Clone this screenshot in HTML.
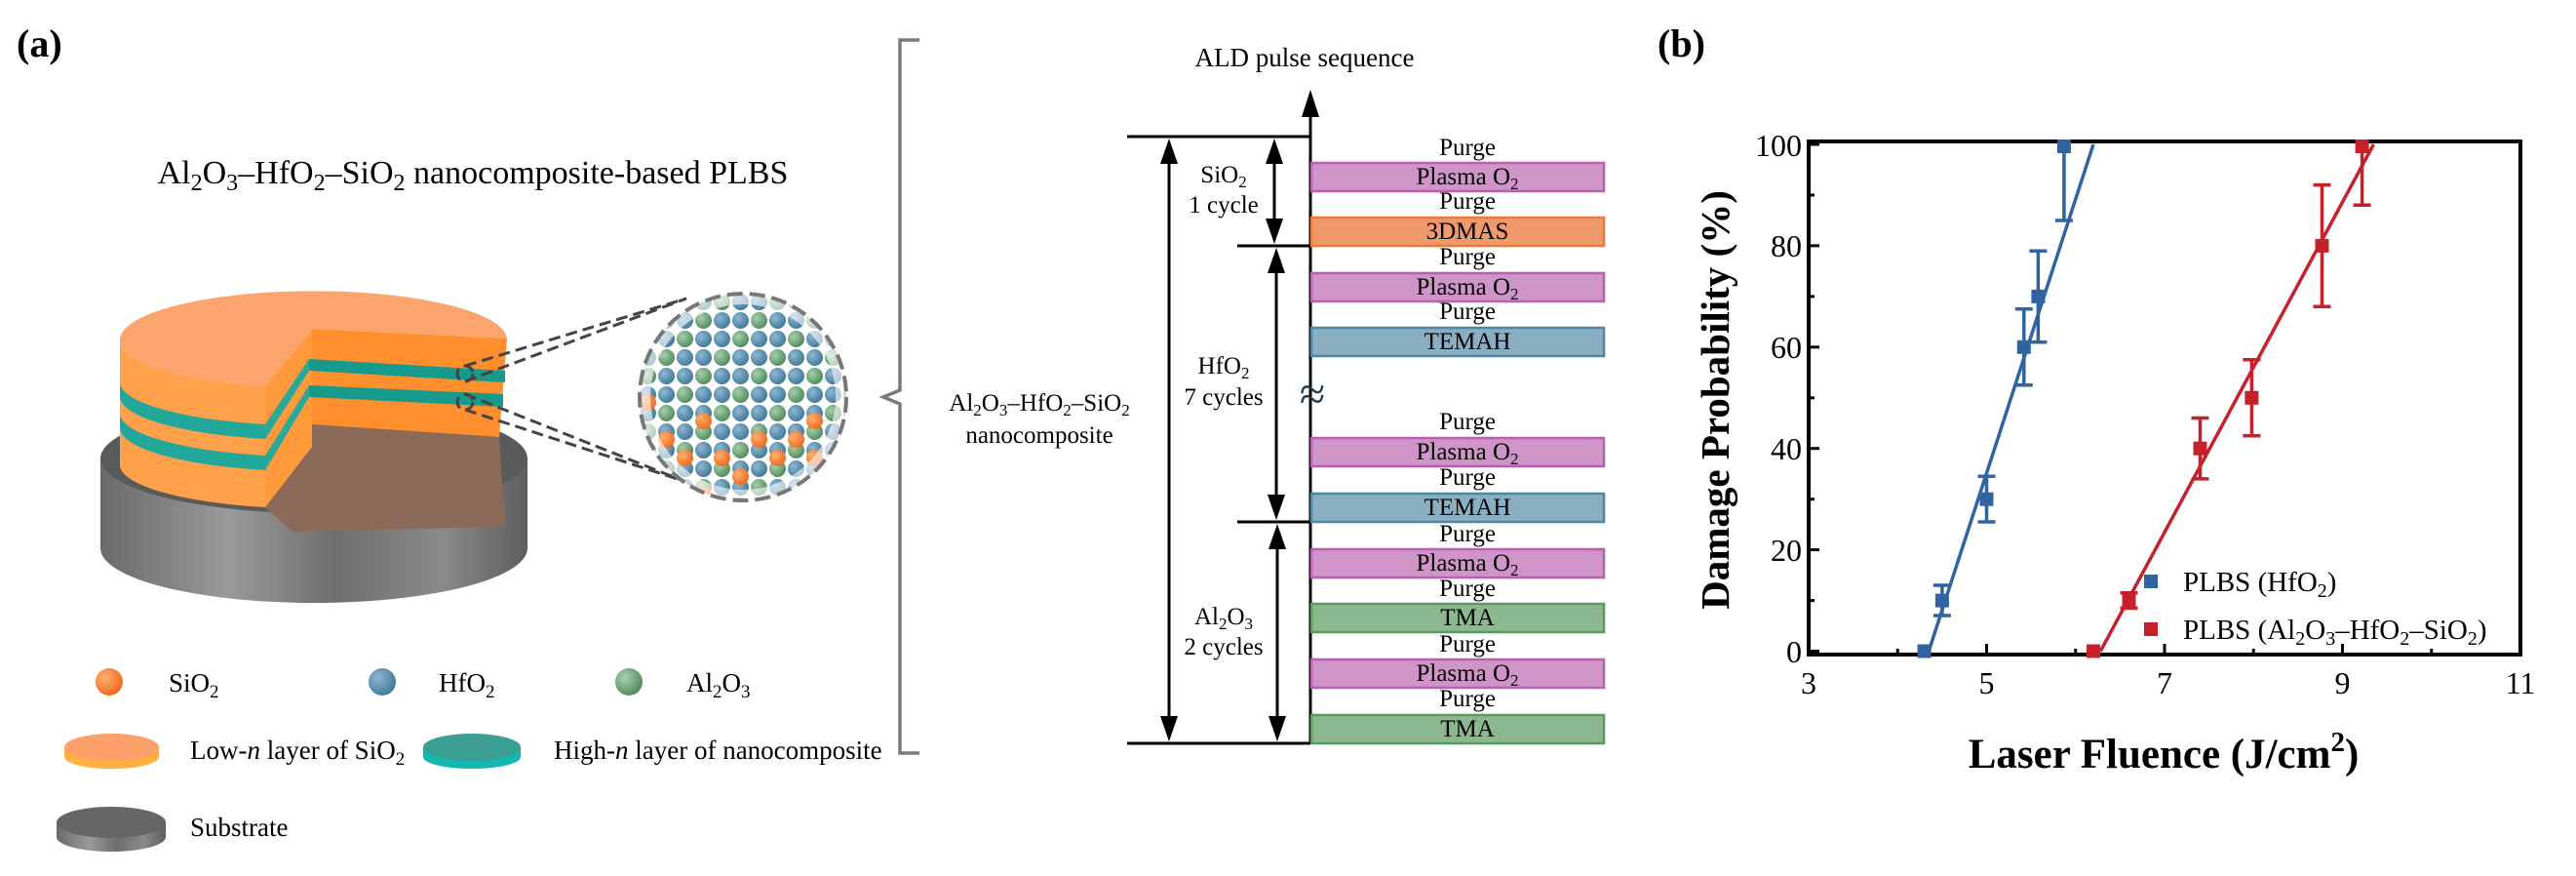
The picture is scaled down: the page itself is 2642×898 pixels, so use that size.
<!DOCTYPE html>
<html><head><meta charset="utf-8"><style>
html,body{margin:0;padding:0;background:#fff;}
svg{display:block;font-family:"Liberation Serif",serif;}
</style></head><body>
<svg width="2642" height="898" viewBox="0 0 2642 898" xmlns="http://www.w3.org/2000/svg" font-family="Liberation Serif, serif">
<defs>
<linearGradient id="sub" x1="0" x2="1" y1="0" y2="0">
<stop offset="0" stop-color="#6a6a6a"/><stop offset="0.3" stop-color="#9a9a9a"/><stop offset="0.55" stop-color="#6e6e6e"/><stop offset="0.8" stop-color="#8a8a8a"/><stop offset="1" stop-color="#5e5e5e"/></linearGradient>
<radialGradient id="bb" cx="0.35" cy="0.35" r="0.7"><stop offset="0" stop-color="#8fb8d0"/><stop offset="1" stop-color="#3f789a"/></radialGradient>
<radialGradient id="bg" cx="0.35" cy="0.35" r="0.7"><stop offset="0" stop-color="#a8cfae"/><stop offset="1" stop-color="#4f8a5c"/></radialGradient>
<radialGradient id="bo" cx="0.35" cy="0.35" r="0.7"><stop offset="0" stop-color="#ffb070"/><stop offset="1" stop-color="#f0681c"/></radialGradient>
<pattern id="balls" x="655" y="300" width="57" height="57" patternUnits="userSpaceOnUse">
<circle cx="9.5" cy="9.5" r="8.5" fill="url(#bb)"/><circle cx="28.5" cy="9.5" r="8.5" fill="url(#bg)"/><circle cx="47.5" cy="9.5" r="8.5" fill="url(#bb)"/>
<circle cx="9.5" cy="28.5" r="8.5" fill="url(#bg)"/><circle cx="28.5" cy="28.5" r="8.5" fill="url(#bb)"/><circle cx="47.5" cy="28.5" r="8.5" fill="url(#bb)"/>
<circle cx="9.5" cy="47.5" r="8.5" fill="url(#bb)"/><circle cx="28.5" cy="47.5" r="8.5" fill="url(#bb)"/><circle cx="47.5" cy="47.5" r="8.5" fill="url(#bg)"/>
</pattern>
<clipPath id="cc"><circle cx="762" cy="407" r="106"/></clipPath>
<clipPath id="plot"><rect x="1855" y="145" width="730" height="526"/></clipPath>
</defs>

<!-- (a) -->
<text x="17" y="58" font-size="40" font-weight="bold">(a)</text>
<text x="485" y="188" font-size="34" text-anchor="middle">Al<tspan font-size="24" dy="7">2</tspan><tspan dy="-7">O</tspan><tspan font-size="24" dy="7">3</tspan><tspan dy="-7">–HfO</tspan><tspan font-size="24" dy="7">2</tspan><tspan dy="-7">–SiO</tspan><tspan font-size="24" dy="7">2</tspan><tspan dy="-7"> nanocomposite-based PLBS</tspan></text>

<path d="M103,470 L103,562 A219,56 0 0 0 541,562 L541,470 Z" fill="url(#sub)"/>
<ellipse cx="322" cy="470" rx="219" ry="56" fill="#5a5a5a"/>
<polygon points="272,520 320,435 512,448 518,540 300,545" fill="#8b6a5a"/>
<path d="M123,360 L123,477 A198,45 0 0 0 272,520 L272,470 Z" fill="#8b6a5a" opacity="0.6"/>
<path d="M123,350 A198,48 0 0 0 272,396 L272,520 A198,45 0 0 1 123,477 Z" fill="#ffa04a"/>
<path d="M123,391 A198,45 0 0 0 272,435 L272,450 A198,45 0 0 1 123,406 Z" fill="#22a89a"/>
<path d="M123,423 A198,45 0 0 0 272,467 L272,482 A198,45 0 0 1 123,438 Z" fill="#22a89a"/>
<polygon points="272,396 320,337 320,458 272,520" fill="#ff9a3c"/>
<polygon points="272,435 317,368 317,380 272,450" fill="#2aa898"/>
<polygon points="272,467 317,395 317,407 272,482" fill="#2aa898"/>
<polygon points="320,337 520,347 512,448 320,435" fill="#ff8f2c"/>
<polygon points="317,368 518,380 518,392 317,380" fill="#159a8c"/>
<polygon points="317,395 516,404 516,417 317,407" fill="#159a8c"/>
<path d="M320,337 L272,396 A198,48 0 0 1 123,350 A198,50 0 0 1 520,347 Z" fill="#fba46e"/>

<g stroke="#444" stroke-width="3" stroke-dasharray="12,6" fill="none">
<circle cx="477" cy="383" r="8"/><circle cx="477" cy="412" r="8"/>
<line x1="477" y1="375" x2="704" y2="306"/><line x1="477" y1="391" x2="704" y2="306"/>
<line x1="477" y1="404" x2="701" y2="493"/><line x1="477" y1="420" x2="701" y2="493"/>
</g>
<circle cx="762" cy="407" r="106" fill="#fff"/>
<g clip-path="url(#cc)">
<rect x="650" y="295" width="230" height="230" fill="url(#balls)"/>
<g fill="url(#bo)">
<circle cx="664.5" cy="412.5" r="8.5"/><circle cx="721.5" cy="431.5" r="8.5"/><circle cx="835.5" cy="431.5" r="8.5"/>
<circle cx="683.5" cy="450.5" r="8.5"/><circle cx="778.5" cy="450.5" r="8.5"/><circle cx="816.5" cy="450.5" r="8.5"/>
<circle cx="702.5" cy="469.5" r="8.5"/><circle cx="740.5" cy="469.5" r="8.5"/><circle cx="797.5" cy="469.5" r="8.5"/><circle cx="835.5" cy="469.5" r="8.5"/>
<circle cx="759.5" cy="488.5" r="8.5"/><circle cx="721.5" cy="507.5" r="8.5"/>
</g>
<circle cx="762" cy="407" r="106" fill="none" stroke="#fff" stroke-width="22" opacity="0.6"/>
</g>
<circle cx="762" cy="407" r="106" fill="none" stroke="#777" stroke-width="4" stroke-dasharray="16,7"/>

<circle cx="112" cy="699" r="14" fill="url(#bo)"/>
<circle cx="392" cy="699" r="14" fill="url(#bb)"/>
<circle cx="645" cy="699" r="14" fill="url(#bg)"/>
<g font-size="27">
<text x="173" y="709">SiO<tspan font-size="19" dy="6">2</tspan></text>
<text x="450" y="709">HfO<tspan font-size="19" dy="6">2</tspan></text>
<text x="704" y="709">Al<tspan font-size="19" dy="6">2</tspan><tspan dy="-6">O</tspan><tspan font-size="19" dy="6">3</tspan></text>
<text x="195" y="778">Low-<tspan font-style="italic">n</tspan> layer of SiO<tspan font-size="19" dy="6">2</tspan></text>
<text x="568" y="778">High-<tspan font-style="italic">n</tspan> layer of nanocomposite</text>
<text x="195" y="857">Substrate</text>
</g>
<path d="M66,766 L66,776 A48,12 0 0 0 163,776 L163,766 Z" fill="#ffb040"/>
<ellipse cx="114.5" cy="766" rx="48.5" ry="14" fill="#fba06a"/>
<path d="M434,766 L434,776 A50,12 0 0 0 534,776 L534,766 Z" fill="#14b8b0"/>
<ellipse cx="484" cy="766" rx="50" ry="14" fill="#3a9e92"/>
<path d="M58,843 L58,858 A56,15 0 0 0 170,858 L170,843 Z" fill="url(#sub)"/>
<ellipse cx="114" cy="843" rx="56" ry="16" fill="#666"/>

<!-- bracket -->
<path d="M943,41 L923,41 L923,400 L906,407 L923,414 L923,772 L943,772" fill="none" stroke="#7a7a7a" stroke-width="3.5"/>

<!-- ALD diagram -->
<text x="1338" y="68" font-size="27" text-anchor="middle">ALD pulse sequence</text>
<g stroke="#000" stroke-width="3" fill="none">
<line x1="1344" y1="105" x2="1344" y2="763"/>
<line x1="1156" y1="140" x2="1344" y2="140"/>
<line x1="1269" y1="252" x2="1344" y2="252"/>
<line x1="1269" y1="535" x2="1344" y2="535"/>
<line x1="1156" y1="762" x2="1344" y2="762"/>
<line x1="1199" y1="160" x2="1199" y2="745"/>
<line x1="1307" y1="160" x2="1307" y2="235"/>
<line x1="1309" y1="270" x2="1309" y2="518"/>
<line x1="1310" y1="553" x2="1310" y2="745"/>
</g>
<g fill="#000">
<polygon points="1344,92 1335,120 1353,120"/>
<polygon points="1199,142 1190,168 1208,168"/><polygon points="1199,760 1190,734 1208,734"/>
<polygon points="1307,142 1298,168 1316,168"/><polygon points="1307,250 1298,224 1316,224"/>
<polygon points="1309,254 1300,280 1318,280"/><polygon points="1309,533 1300,507 1318,507"/>
<polygon points="1310,537 1301,563 1319,563"/><polygon points="1310,760 1301,734 1319,734"/>
</g>
<text x="1346" y="420" font-size="48" text-anchor="middle" fill="#1f3f56">≈</text>
<g stroke-width="2.5">
<rect x="1345" y="167" width="300" height="29" fill="#d095c8" stroke="#b860b0"/>
<rect x="1345" y="223" width="300" height="29" fill="#f09a6c" stroke="#e87a3c"/>
<rect x="1345" y="280" width="300" height="29" fill="#d095c8" stroke="#b860b0"/>
<rect x="1345" y="336" width="300" height="29" fill="#8aafc2" stroke="#4f86a6"/>
<rect x="1345" y="449" width="300" height="29" fill="#d095c8" stroke="#b860b0"/>
<rect x="1345" y="506" width="300" height="29" fill="#8aafc2" stroke="#4f86a6"/>
<rect x="1345" y="563" width="300" height="29" fill="#d095c8" stroke="#b860b0"/>
<rect x="1345" y="619" width="300" height="29" fill="#8cb88f" stroke="#5a9a5e"/>
<rect x="1345" y="676" width="300" height="29" fill="#d095c8" stroke="#b860b0"/>
<rect x="1345" y="733" width="300" height="29" fill="#8cb88f" stroke="#5a9a5e"/>
</g>
<g font-size="25" text-anchor="middle">
<text x="1505" y="159">Purge</text>
<text x="1505" y="189">Plasma O<tspan font-size="17" dy="5">2</tspan></text>
<text x="1505" y="214">Purge</text>
<text x="1505" y="245">3DMAS</text>
<text x="1505" y="271">Purge</text>
<text x="1505" y="302">Plasma O<tspan font-size="17" dy="5">2</tspan></text>
<text x="1505" y="327">Purge</text>
<text x="1505" y="358">TEMAH</text>
<text x="1505" y="440">Purge</text>
<text x="1505" y="471">Plasma O<tspan font-size="17" dy="5">2</tspan></text>
<text x="1505" y="497">Purge</text>
<text x="1505" y="528">TEMAH</text>
<text x="1505" y="555">Purge</text>
<text x="1505" y="585">Plasma O<tspan font-size="17" dy="5">2</tspan></text>
<text x="1505" y="611">Purge</text>
<text x="1505" y="641">TMA</text>
<text x="1505" y="668">Purge</text>
<text x="1505" y="698">Plasma O<tspan font-size="17" dy="5">2</tspan></text>
<text x="1505" y="724">Purge</text>
<text x="1505" y="755">TMA</text>
</g>
<g font-size="25" text-anchor="middle">
<text x="1255" y="187">SiO<tspan font-size="17" dy="5">2</tspan></text>
<text x="1255" y="218">1 cycle</text>
<text x="1255" y="383">HfO<tspan font-size="17" dy="5">2</tspan></text>
<text x="1255" y="415">7 cycles</text>
<text x="1255" y="640">Al<tspan font-size="17" dy="5">2</tspan><tspan dy="-5">O</tspan><tspan font-size="17" dy="5">3</tspan></text>
<text x="1255" y="671">2 cycles</text>
<text x="1066" y="421">Al<tspan font-size="17" dy="5">2</tspan><tspan dy="-5">O</tspan><tspan font-size="17" dy="5">3</tspan><tspan dy="-5">–HfO</tspan><tspan font-size="17" dy="5">2</tspan><tspan dy="-5">–SiO</tspan><tspan font-size="17" dy="5">2</tspan></text>
<text x="1066" y="454">nanocomposite</text>
</g>

<!-- (b) chart -->
<text x="1700" y="58" font-size="40" font-weight="bold">(b)</text>
<rect x="1855" y="145" width="730" height="526" fill="none" stroke="#000" stroke-width="4"/>
<g stroke="#000" stroke-width="3">
<line x1="1855" y1="667.5" x2="1866" y2="667.5"/><line x1="1855" y1="563.6" x2="1866" y2="563.6"/>
<line x1="1855" y1="459.7" x2="1866" y2="459.7"/><line x1="1855" y1="355.8" x2="1866" y2="355.8"/>
<line x1="1855" y1="251.9" x2="1866" y2="251.9"/><line x1="1855" y1="148" x2="1866" y2="148"/>
<line x1="1855" y1="615.6" x2="1861" y2="615.6"/><line x1="1855" y1="511.7" x2="1861" y2="511.7"/>
<line x1="1855" y1="407.8" x2="1861" y2="407.8"/><line x1="1855" y1="303.9" x2="1861" y2="303.9"/>
<line x1="1855" y1="200" x2="1861" y2="200"/>
<line x1="2037.5" y1="671" x2="2037.5" y2="660"/><line x1="2220" y1="671" x2="2220" y2="660"/>
<line x1="2402.5" y1="671" x2="2402.5" y2="660"/>
<line x1="1946.25" y1="671" x2="1946.25" y2="665"/><line x1="2128.75" y1="671" x2="2128.75" y2="665"/>
<line x1="2311.25" y1="671" x2="2311.25" y2="665"/><line x1="2493.75" y1="671" x2="2493.75" y2="665"/>
</g>
<g font-size="32" text-anchor="end">
<text x="1848" y="679">0</text><text x="1848" y="575">20</text><text x="1848" y="471">40</text>
<text x="1848" y="367">60</text><text x="1848" y="263">80</text><text x="1848" y="160">100</text>
</g>
<g font-size="32" text-anchor="middle">
<text x="1855" y="711">3</text><text x="2037.5" y="711">5</text><text x="2220" y="711">7</text>
<text x="2402.5" y="711">9</text><text x="2585" y="711">11</text>
</g>
<text x="2219" y="787" font-size="43" font-weight="bold" text-anchor="middle">Laser Fluence (J/cm<tspan font-size="29" dy="-17">2</tspan><tspan dy="17">)</tspan></text>
<text transform="translate(1773,410) rotate(-90)" font-size="41" font-weight="bold" text-anchor="middle">Damage Probability (%)</text>

<g clip-path="url(#plot)">
<line x1="1978.2" y1="667.5" x2="2147" y2="148" stroke="#2f64a0" stroke-width="3.5"/>
<line x1="2154.3" y1="667.5" x2="2434.4" y2="148" stroke="#c8202a" stroke-width="3.5"/>
</g>
<g stroke="#2f64a0" stroke-width="3.5" fill="none">
<path d="M1991.9,600 V631 M1982.9,600 H2000.9 M1982.9,631 H2000.9"/>
<path d="M2037.5,488.3 V535 M2028.5,488.3 H2046.5 M2028.5,535 H2046.5"/>
<path d="M2075.8,316.8 V394.8 M2066.8,316.8 H2084.8 M2066.8,394.8 H2084.8"/>
<path d="M2090.4,257.2 V350.7 M2081.4,257.2 H2099.4 M2081.4,350.7 H2099.4"/>
<path d="M2116.9,148 V226 M2107.9,226 H2125.9"/>
</g>
<g fill="#2f64a0">
<rect x="1966.6" y="660.5" width="14" height="14"/><rect x="1984.9" y="608.6" width="14" height="14"/>
<rect x="2030.5" y="504.7" width="14" height="14"/><rect x="2068.8" y="348.8" width="14" height="14"/>
<rect x="2083.4" y="296.9" width="14" height="14"/><rect x="2109.9" y="143" width="14" height="14"/>
</g>
<g stroke="#c8202a" stroke-width="3.5" fill="none">
<path d="M2183.5,607.8 V623.4 M2174.5,607.8 H2192.5 M2174.5,623.4 H2192.5"/>
<path d="M2256.5,428.5 V490.9 M2247.5,428.5 H2265.5 M2247.5,490.9 H2265.5"/>
<path d="M2309.4,368.8 V446.7 M2300.4,368.8 H2318.4 M2300.4,446.7 H2318.4"/>
<path d="M2381.5,189.6 V314.2 M2372.5,189.6 H2390.5 M2372.5,314.2 H2390.5"/>
<path d="M2422.6,148 V210.3 M2413.6,210.3 H2431.6"/>
</g>
<g fill="#c8202a">
<rect x="2140" y="660.5" width="14" height="14"/><rect x="2176.5" y="608.6" width="14" height="14"/>
<rect x="2249.5" y="452.7" width="14" height="14"/><rect x="2302.4" y="400.8" width="14" height="14"/>
<rect x="2374.5" y="244.9" width="14" height="14"/><rect x="2415.6" y="143" width="14" height="14"/>
</g>
<rect x="2199" y="589" width="14" height="14" fill="#2f64a0"/>
<rect x="2199" y="638" width="14" height="14" fill="#c8202a"/>
<g font-size="29">
<text x="2239" y="606">PLBS (HfO<tspan font-size="20" dy="6">2</tspan><tspan dy="-6">)</tspan></text>
<text x="2239" y="655">PLBS (Al<tspan font-size="20" dy="6">2</tspan><tspan dy="-6">O</tspan><tspan font-size="20" dy="6">3</tspan><tspan dy="-6">–HfO</tspan><tspan font-size="20" dy="6">2</tspan><tspan dy="-6">–SiO</tspan><tspan font-size="20" dy="6">2</tspan><tspan dy="-6">)</tspan></text>
</g>
</svg>
</body></html>
